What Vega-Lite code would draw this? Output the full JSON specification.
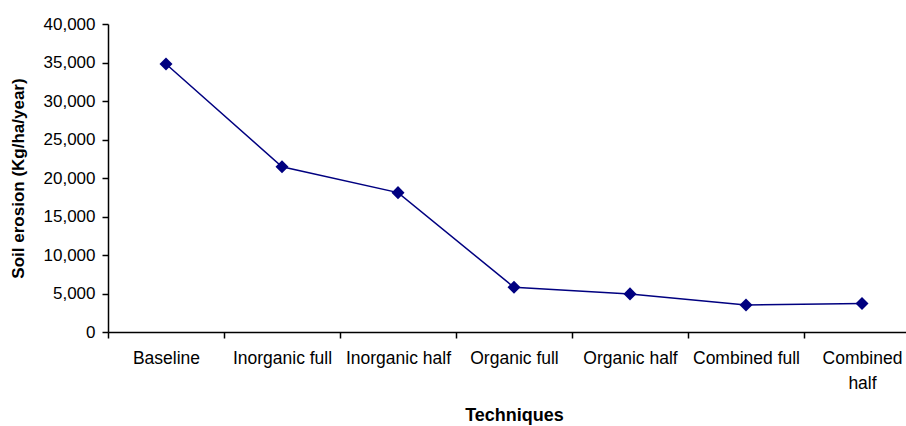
{
  "$schema": "https://vega.github.io/schema/vega-lite/v6.json",
  "autosize": "none",
  "padding": {"left": 108, "top": 24, "right": 0, "bottom": 94},
  "width": 812,
  "height": 308,
  "background": "white",
  "data": {
    "values": [
      {"technique": "Baseline", "erosion": 34800},
      {"technique": "Inorganic full", "erosion": 21450},
      {"technique": "Inorganic half", "erosion": 18100},
      {"technique": "Organic full", "erosion": 5800},
      {"technique": "Organic half", "erosion": 4950},
      {"technique": "Combined full", "erosion": 3500},
      {"technique": "Combined half", "erosion": 3700}
    ]
  },
  "config": {
    "view": {"stroke": null},
    "font": "Liberation Sans",
    "axis": {
      "domainColor": "black",
      "tickColor": "black",
      "domainWidth": 1.5,
      "tickWidth": 1.5,
      "tickSize": 6,
      "labelColor": "black",
      "titleColor": "black",
      "labelFont": "Liberation Sans",
      "titleFont": "Liberation Sans",
      "grid": false
    }
  },
  "mark": {
    "type": "line",
    "color": "#000080",
    "strokeWidth": 1.5,
    "point": {"shape": "diamond", "size": 170, "filled": true, "color": "#000080", "opacity": 1}
  },
  "encoding": {
    "x": {
      "field": "technique",
      "type": "nominal",
      "sort": null,
      "scale": {"paddingInner": 0, "paddingOuter": 0, "align": 0},
      "axis": {
        "title": "Techniques",
        "titleFontSize": 18,
        "titleFontWeight": "bold",
        "titlePadding": 15,
        "labelAngle": 0,
        "labelFontSize": 17.5,
        "labelPadding": 11,
        "labelLineHeight": 25,
        "labelExpr": "datum.value == 'Combined half' ? ['Combined', 'half'] : datum.value",
        "tickBand": "extent",
        "labelOverlap": false
      }
    },
    "y": {
      "field": "erosion",
      "type": "quantitative",
      "scale": {"domain": [0, 40000], "nice": false},
      "axis": {
        "title": "Soil erosion (Kg/ha/year)",
        "titleFontSize": 17,
        "titleFontWeight": "bold",
        "titlePadding": 16,
        "labelFontSize": 17,
        "labelPadding": 7,
        "labelOverlap": false,
        "values": [0, 5000, 10000, 15000, 20000, 25000, 30000, 35000, 40000],
        "format": ",d"
      }
    }
  }
}
